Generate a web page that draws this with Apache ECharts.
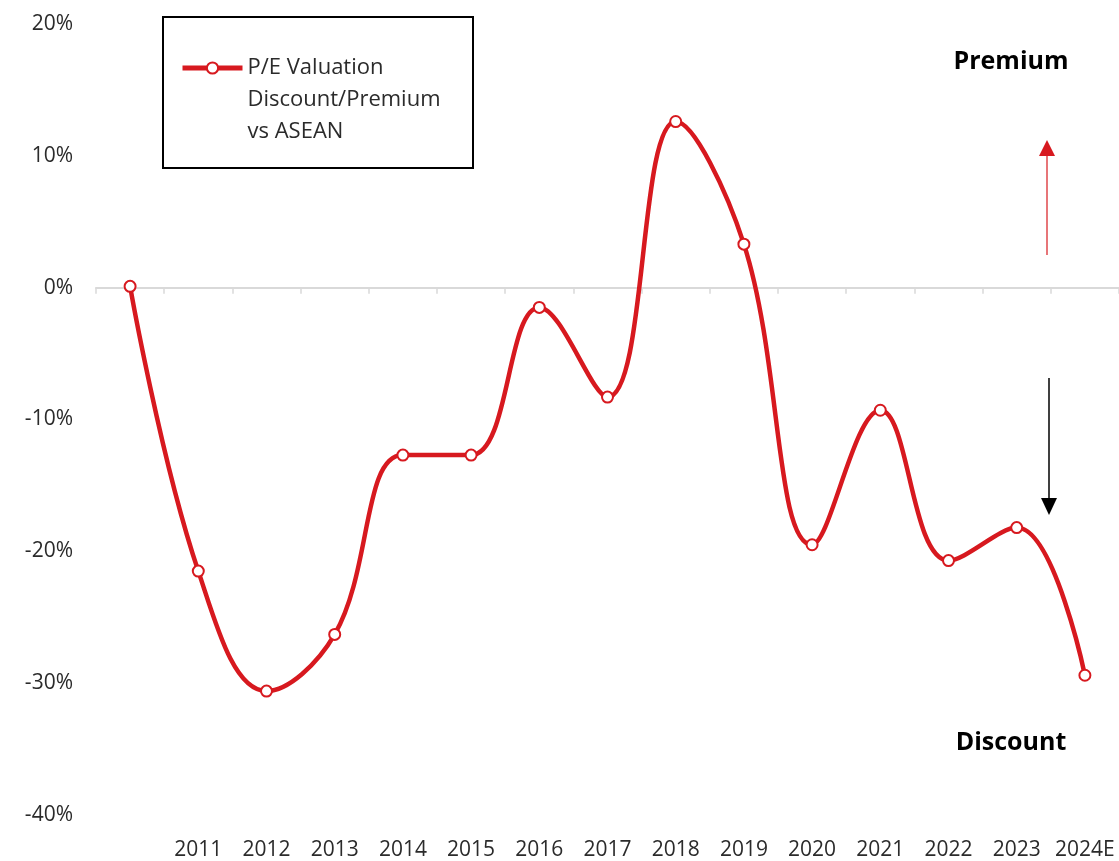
<!DOCTYPE html>
<html>
<head>
<meta charset="utf-8">
<script src="https://cdn.jsdelivr.net/npm/echarts@6/dist/echarts.min.js"></script>
<style>
  html, body { margin: 0; padding: 0; background: #fff; }
  #main { width: 1119px; height: 861px; }
</style>
</head>
<body>
<div id="main"></div>
<script>
// categories (first point has no label)
var years = ["", "2011", "2012", "2013", "2014", "2015", "2016", "2017", "2018", "2019", "2020", "2021", "2022", "2023", "2024E"];
// P/E discount / premium vs ASEAN, in %
var peGap = [0.1, -21.5, -30.6, -26.3, -12.7, -12.7, -1.5, -8.3, 12.6, 3.3, -19.5, -9.3, -20.7, -18.2, -29.4];
var seriesName = "P/E Valuation\nDiscount/Premium\nvs ASEAN";

var red = "#d7191f";
var font = "Open Sans";
var txt = "#2b2b2b";

var myChart = echarts.init(document.getElementById("main"));
var option = {
  animation: false,
  textStyle: { fontFamily: font },
  grid: { left: 96, top: 24, width: 1032, height: 791 },
  legend: {
    left: 180,
    top: -12,
    padding: 0,
    itemWidth: 60,
    itemHeight: 14,
    // two empty lines on top so the icon sits next to the first text line
    formatter: function (name) { return "\n\n" + name; },
    lineStyle: { width: 5 },
    textStyle: {
      fontFamily: font,
      fontSize: 22,
      color: txt,
      lineHeight: 32,
    },
    data: [seriesName],
  },
  xAxis: [
    {
      type: "category",
      data: years,
      position: "bottom",
      boundaryGap: true,
      axisLine: { show: false, onZero: false },
      axisTick: { show: false },
      axisLabel: { fontSize: 21, color: txt, margin: 25, interval: 0 },
    },
    {
      type: "category",
      data: years,
      position: "top",
      boundaryGap: true,
      axisLine: { show: true, onZero: true, lineStyle: { color: "#d9d9d9", width: 2 } },
      axisTick: { show: true, inside: true, length: 6, lineStyle: { color: "#d9d9d9", width: 1.5 } },
      axisLabel: { show: false },
    },
  ],
  yAxis: {
    type: "value",
    min: -40,
    max: 20,
    interval: 10,
    axisLine: { show: false },
    axisTick: { show: false },
    splitLine: { show: false },
    axisLabel: {
      fontSize: 21,
      color: txt,
      margin: 23,
      formatter: function (v) { return v + "%"; },
    },
  },
  series: [
    {
      name: seriesName,
      type: "line",
      xAxisIndex: 0,
      data: peGap,
      smooth: 0.4,
      symbol: "circle",
      symbolSize: 11,
      lineStyle: { color: red, width: 4.5 },
      itemStyle: { color: "#fff", borderColor: red, borderWidth: 2 },
      z: 3,
    },
  ],
  graphic: [
    // legend frame
    {
      type: "rect",
      shape: { x: 163, y: 17, width: 310, height: 151 },
      style: { fill: "none", stroke: "#000", lineWidth: 2 },
      silent: true,
    },
    // labels
    {
      type: "text",
      x: 1011,
      y: 62,
      style: { text: "Premium", fill: "#000", font: "bold 25px 'Open Sans'", textAlign: "center", textVerticalAlign: "middle" },
    },
    {
      type: "text",
      x: 1011,
      y: 743,
      style: { text: "Discount", fill: "#000", font: "bold 25px 'Open Sans'", textAlign: "center", textVerticalAlign: "middle" },
    },
    // red up arrow
    {
      type: "line",
      shape: { x1: 1047, y1: 255, x2: 1047, y2: 152 },
      style: { stroke: red, lineWidth: 1.2 },
    },
    {
      type: "polygon",
      shape: { points: [[1047, 140], [1039, 156], [1055, 156]] },
      style: { fill: red },
    },
    // black down arrow
    {
      type: "line",
      shape: { x1: 1049, y1: 378, x2: 1049, y2: 502 },
      style: { stroke: "#000", lineWidth: 1.5 },
    },
    {
      type: "polygon",
      shape: { points: [[1049, 515], [1041, 498], [1057, 498]] },
      style: { fill: "#000" },
    },
  ],
};
myChart.setOption(option);
</script>
</body>
</html>
